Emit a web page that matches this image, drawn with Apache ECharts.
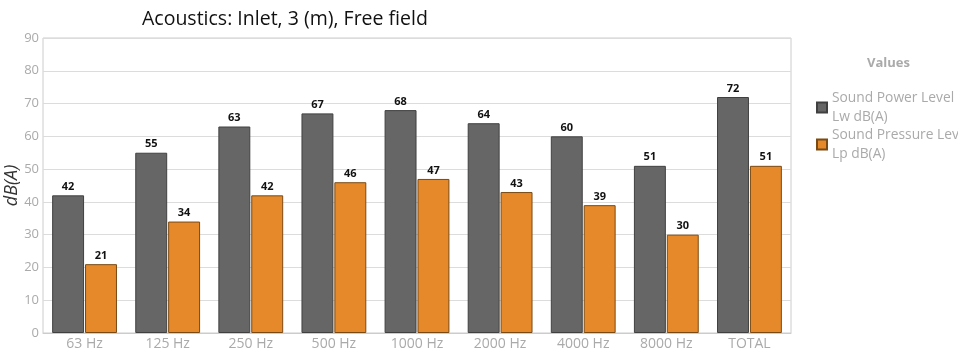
<!DOCTYPE html>
<html><head><meta charset="utf-8">
<script src="https://cdn.jsdelivr.net/npm/echarts@6/dist/echarts.min.js"></script>
<style>html,body{margin:0;padding:0;background:#fff}#c{width:958px;height:352px}</style>
</head><body><div id="c"></div>
<script>
const categories = ['63 Hz','125 Hz','250 Hz','500 Hz','1000 Hz','2000 Hz','4000 Hz','8000 Hz','TOTAL'];
const powerLevel = [42,55,63,67,68,64,60,51,72];
const pressureLevel = [21,34,42,46,47,43,39,30,51];
const seriesNames = ['Sound Power Level\nLw dB(A)','Sound Pressure Level\nLp dB(A)'];

const chart = echarts.init(document.getElementById('c'));
const font = '"Open Sans", "Noto Sans", sans-serif';
chart.setOption({
  animation:false,
  title:[
    {text:'Acoustics: Inlet, 3 (m), Free field', left:137, top:4, textStyle:{fontFamily:font, fontSize:19.5, fontWeight:'normal', color:'#111'}},
    {text:'Values', left:862, top:52, textStyle:{fontFamily:font, fontSize:13, fontWeight:'bold', color:'#aaa'}}
  ],
  legend:{
    orient:'vertical', left:811, top:84, itemWidth:10, itemHeight:10, itemGap:0,
    textStyle:{fontFamily:font, fontSize:13.8, color:'#aaa', lineHeight:18.5},
    data:seriesNames.map(n=>({name:n, icon:'rect'}))
  },
  grid:{left:43, right:167, top:38, bottom:19, show:true, borderColor:'#ccc', borderWidth:1, containLabel:false, outerBoundsMode:'none'},
  xAxis:{type:'category', data:categories,
    axisLine:{lineStyle:{color:'#ccc'}}, axisTick:{show:false},
    axisLabel:{color:'#aaa', fontFamily:font, fontSize:14, margin:4}},
  yAxis:{type:'value', min:0, max:90, interval:10,
    name:'dB(A)', nameLocation:'middle', nameGap:22, nameRotate:90, nameMoveOverlap:false,
    nameTextStyle:{fontFamily:font, fontStyle:'italic', fontSize:18, color:'#333'},
    axisLine:{show:false}, axisTick:{show:false},
    axisLabel:{color:'#aaa', fontFamily:font, fontSize:13, margin:4},
    splitLine:{lineStyle:{color:'#dcdcdc'}}},
  series:[
    {name:seriesNames[0], type:'bar', data:powerLevel, barGap:'3%', barCategoryGap:'22%',
     itemStyle:{color:'#666666', borderColor:'#404040', borderWidth:1},
     label:{show:true, position:'top', distance:3, fontFamily:font, fontSize:11, fontWeight:'bold', color:'#111'}},
    {name:seriesNames[1], type:'bar', data:pressureLevel,
     itemStyle:{color:'#E5892A', borderColor:'#7a4a14', borderWidth:1},
     label:{show:true, position:'top', distance:3, fontFamily:font, fontSize:11, fontWeight:'bold', color:'#111'}}
  ]
});
</script></body></html>
